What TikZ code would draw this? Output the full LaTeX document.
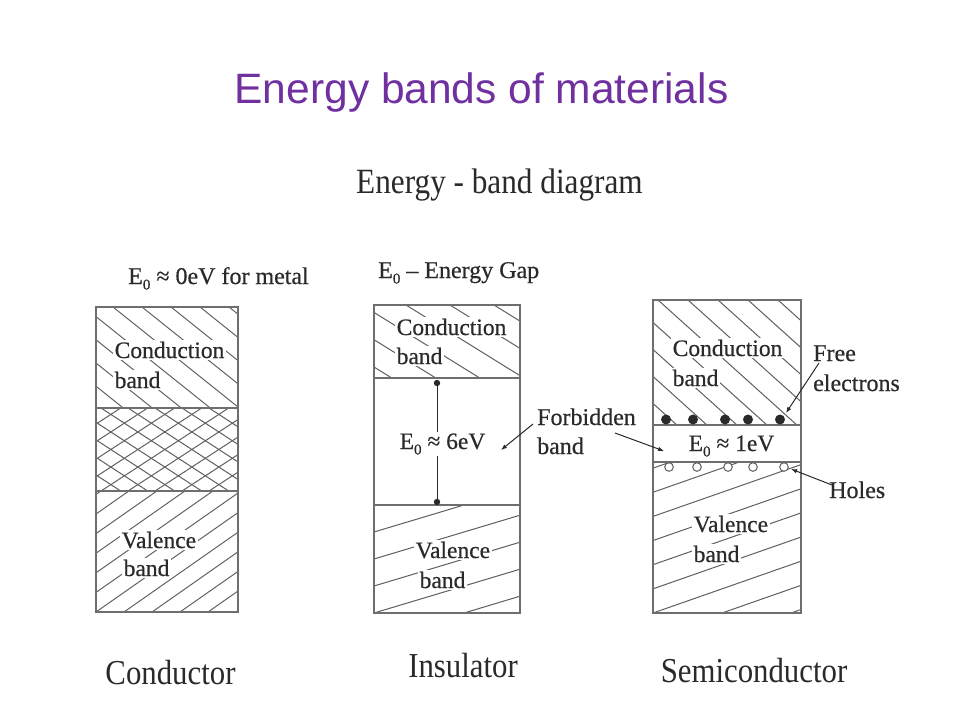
\documentclass[tikz,border=0pt]{standalone}
\usepackage{fontspec}
\setmainfont{Liberation Serif}
\newfontfamily\titlefont{Liberation Sans}
\newfontfamily\condfont[FakeStretch=0.88]{Liberation Serif}
\newfontfamily\scanfont[FakeBold=0.5]{Liberation Serif}
\usetikzlibrary{arrows.meta}
\definecolor{titlepurple}{HTML}{7030A0}
\definecolor{ink}{HTML}{2A2A2A}
\definecolor{boxgray}{HTML}{6E6E6E}
\definecolor{hatchgray}{HTML}{606060}
\tikzset{
  bandbox/.style={draw=boxgray, line width=1.5pt},
  divline/.style={draw=boxgray, line width=1.3pt},
  hatch/.style={draw=hatchgray, line width=1pt},
  lbl/.style={anchor=base west, inner sep=1.5pt, fill=white, text=ink, font=\scanfont\fontsize{23.5}{28}\selectfont},
  toplbl/.style={anchor=base west, inner sep=0pt, text=ink, font=\scanfont\fontsize{24}{28}\selectfont},
  caption/.style={anchor=base, inner sep=0pt, text=ink, font=\condfont\fontsize{35}{40}\selectfont},
  pointer/.style={draw=ink, line width=1pt, -{Latex[length=6pt,width=4.5pt]}},
  electron/.style={fill=ink, draw=none},
  hole/.style={fill=white, draw=hatchgray, line width=1pt}
}
% "\" hatching: x1 y1 x2 y2 spacing slope phase
\newcommand{\hatchdown}[7]{%
  \begin{scope}
    \clip (#1,#2) rectangle (#3,#4);
    \pgfmathsetmacro\hH{#4-#2}
    \pgfmathsetmacro\hW{\hH/#6}
    \pgfmathsetmacro\hA{#1+#7-#5*ceil((\hW+#7)/#5)}
    \pgfmathsetmacro\hB{\hA+#5}
    \foreach \xx in {\hA,\hB,...,#3} \draw[hatch] (\xx,#2) -- ++(\hW,\hH);
  \end{scope}}
% "/" hatching: x1 y1 x2 y2 spacing slope phase
\newcommand{\hatchup}[7]{%
  \begin{scope}
    \clip (#1,#2) rectangle (#3,#4);
    \pgfmathsetmacro\hH{#4-#2}
    \pgfmathsetmacro\hW{\hH/#6}
    \pgfmathsetmacro\hA{#1+#7-#5*ceil((\hW+#7)/#5)}
    \pgfmathsetmacro\hB{\hA+#5}
    \foreach \xx in {\hA,\hB,...,#3} \draw[hatch] (\xx,#4) -- ++(\hW,-\hH);
  \end{scope}}
\newcommand{\Ezero}{E\raisebox{-0.5ex}{\fontsize{15}{15}\selectfont 0}}
\begin{document}
\begin{tikzpicture}[x=1pt,y=-1pt]
\useasboundingbox[fill=white] (0,0) rectangle (960,720);

% titles
\node[anchor=base, inner sep=0pt, text=titlepurple, font=\titlefont\fontsize{42.5}{48}\selectfont] (title) at (481.5,103) {Energy bands of materials};
\node[caption, font=\condfont\fontsize{35.5}{40}\selectfont] (subtitle) at (499.5,193) {Energy - band diagram};

% ---------- Conductor ----------
\hatchdown{96}{307}{238}{408}{29}{0.8}{17}
\hatchdown{96}{408}{238}{491}{27}{0.65}{5}
\hatchup{96}{408}{238}{491}{27}{0.65}{5}
\hatchup{96}{491}{238}{612}{28}{0.7}{0}
\draw[divline] (96,408) -- (238,408);
\draw[divline] (96,491) -- (238,491);
\draw[bandbox] (96,307) rectangle (238,612);
\node[toplbl] (cgap) at (128,284) {\Ezero\ ≈ 0eV for metal};
\node[lbl] (ccb1) at (113,358) {Conduction};
\node[lbl] (ccb2) at (113,388) {band};
\node[lbl] (cvb1) at (120,548) {Valence};
\node[lbl] (cvb2) at (122,576) {band};
\node[caption] (ccap) at (170.5,684) {Conductor};

% ---------- Insulator ----------
\hatchdown{374}{305}{520}{378}{44}{0.62}{-12}
\hatchup{374}{505}{520}{613}{90}{0.3}{0}
\draw[divline] (374,378) -- (520,378);
\draw[divline] (374,505) -- (520,505);
\draw[bandbox] (374,305) rectangle (520,613);
\coordinate (gapTop) at (437,383);
\coordinate (gapBot) at (437,502);
\draw[draw=ink, line width=1pt] (gapTop) -- (gapBot);
\fill[ink] (gapTop) circle (3.2);
\fill[ink] (gapBot) circle (3.2);
\node[toplbl] (igap) at (378,278) {\Ezero\ – Energy Gap};
\node[lbl] (icb1) at (395,335) {Conduction};
\node[lbl] (icb2) at (395,364) {band};
\node[lbl] (i6ev) at (398,449) {\Ezero\ ≈ 6eV};
\node[lbl] (ivb1) at (414,558) {Valence};
\node[lbl] (ivb2) at (418,588) {band};
\node[caption] (icap) at (463,677) {Insulator};

% ---------- Semiconductor ----------
\hatchdown{653}{300}{801}{425}{30}{0.9}{5}
\hatchup{653}{462}{801}{613}{69}{0.35}{0}
\draw[divline] (653,425) -- (801,425);
\draw[divline] (653,462) -- (801,462);
\draw[bandbox] (653,300) rectangle (801,613);
\node[lbl] (scb1) at (671,356) {Conduction};
\node[lbl] (scb2) at (671,386) {band};
\node[lbl] (s1ev) at (687,451) {\Ezero\ ≈ 1eV};
\node[lbl] (svb1) at (692,532) {Valence};
\node[lbl] (svb2) at (692,562) {band};
\node[caption] (scap) at (754,682) {Semiconductor};
% electrons
\foreach \ex [count=\i] in {666,693,725,748,780}
  \fill[electron] (\ex,419.5) circle (5) coordinate (el\i);
% holes
\foreach \hx [count=\i] in {669,697,728,753,784}
  \draw[hole] (\hx,467) circle (4.3) coordinate (ho\i);

% ---------- pointers ----------
\node[toplbl] (fb1) at (537,425) {Forbidden};
\node[toplbl] (fb2) at (537,454) {band};
\node[toplbl] (fe1) at (813,361) {Free};
\node[toplbl] (fe2) at (813,391) {electrons};
\node[toplbl] (holes) at (829,498) {Holes};
\coordinate (fbA) at (533,424);
\coordinate (fbAtip) at (501,450);
\coordinate (fbB) at (615,433);
\coordinate (fbBtip) at (664,451);
\coordinate (feA) at (819,363);
\coordinate (feTip) at (786,413);
\coordinate (hoA) at (832,485);
\coordinate (hoTip) at (791,469);
\draw[pointer] (fbA) -- (fbAtip);
\draw[pointer] (fbB) -- (fbBtip);
\draw[pointer] (feA) -- (feTip);
\draw[pointer] (hoA) -- (hoTip);
\end{tikzpicture}
\end{document}
